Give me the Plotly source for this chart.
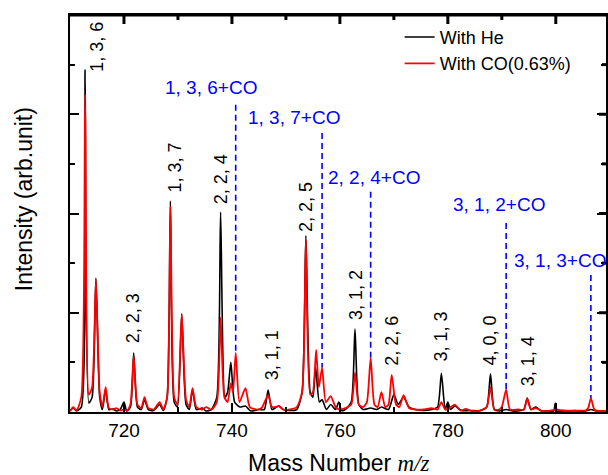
import plotly.graph_objects as go

# ---------------- data ----------------
mz_he = [710.0, 710.6, 711.2, 712.1, 712.8, 713.5, 714.1, 714.8, 715.5, 716.0,
         716.6, 717.2, 718.0, 718.6, 719.3, 720.0, 720.5, 721.2, 721.8, 722.5,
         723.2, 723.8, 724.5, 725.5, 726.6, 727.3, 728.0, 728.6, 729.3, 729.9,
         730.7, 731.5, 732.1, 732.7, 733.4, 734.5, 735.2, 736.2, 737.2, 737.9,
         738.7, 739.2, 739.8, 740.5, 741.5, 742.5, 743.5, 745.0, 746.0, 746.7,
         747.4, 748.0, 748.7, 749.5, 750.5, 752.0, 753.0, 753.7, 754.5, 755.0,
         755.5, 756.2, 756.7, 757.5, 758.3, 759.2, 759.8, 760.3, 761.0, 762.1,
         762.8, 763.5, 764.3, 765.7, 766.8, 767.7, 769.0, 770.0, 770.8, 771.8,
         772.8, 774.0, 775.5, 777.0, 778.1, 778.8, 779.5, 780.0, 780.5, 781.3,
         782.5, 784.0, 786.0, 787.2, 787.9, 788.6, 789.5, 790.8, 792.0, 793.5,
         794.1, 794.7, 795.4, 796.3, 797.2, 798.5, 799.6, 799.9, 800.2, 801.5,
         803.5, 805.5, 806.5, 807.5, 809.3]
int_he = [0.02, 0.08, 0.02, 0.10, 6.90, 0.18, 0.30, 2.70, 0.30, 0.05,
          0.45, 0.05, 0.06, 0.02, 0.05, 0.20, 0.02, 0.10, 1.19, 0.10,
          0.05, 0.25, 0.05, 0.03, 0.15, 0.03, 0.30, 4.25, 0.20, 0.10,
          1.98, 0.15, 0.05, 0.45, 0.05, 0.08, 0.02, 0.05, 0.30, 4.03,
          0.30, 0.40, 1.00, 0.20, 0.10, 0.12, 0.02, 0.05, 0.05, 0.44,
          0.05, 0.08, 0.12, 0.05, 0.03, 0.05, 0.40, 3.55, 0.40, 0.30,
          0.90, 0.20, 0.25, 0.05, 0.15, 0.05, 0.20, 0.03, 0.05, 0.20,
          1.67, 0.15, 0.05, 0.08, 0.05, 0.10, 0.05, 0.35, 0.15, 0.30,
          0.10, 0.05, 0.03, 0.05, 0.10, 0.78, 0.05, 0.20, 0.05, 0.12,
          0.03, 0.03, 0.03, 0.10, 0.77, 0.05, 0.02, 0.05, 0.02, 0.03,
          0.05, 0.28, 0.05, 0.10, 0.03, 0.02, 0.02, 0.18, 0.02, 0.02,
          0.02, 0.02, 0.05, 0.02, 0.02]

mz_co = [710.0, 710.6, 711.2, 712.1, 712.8, 713.5, 714.1, 714.8, 715.5, 716.0,
         716.6, 717.2, 718.0, 718.6, 719.3, 720.0, 720.6, 721.2, 721.8, 722.5,
         723.2, 723.8, 724.5, 725.5, 726.6, 727.3, 728.0, 728.6, 729.3, 729.9,
         730.7, 731.5, 732.1, 732.7, 733.4, 734.5, 735.2, 736.2, 737.2, 737.9,
         738.6, 739.2, 739.8, 740.2, 740.7, 741.4, 742.5, 743.3, 744.5, 745.5,
         746.7, 747.4, 748.0, 748.7, 749.5, 750.5, 752.0, 753.0, 753.7, 754.5,
         755.0, 755.6, 756.1, 756.7, 757.4, 758.3, 759.2, 760.0, 761.0, 762.1,
         762.8, 763.5, 764.3, 765.0, 765.7, 766.4, 767.0, 767.7, 768.4, 769.0,
         769.6, 770.4, 771.0, 771.8, 772.8, 774.0, 775.5, 777.0, 778.1, 778.8,
         779.5, 780.3, 781.3, 782.3, 783.3, 784.5, 786.0, 787.2, 787.9, 788.6,
         789.5, 790.0, 790.8, 791.5, 793.0, 794.1, 794.7, 795.4, 796.3, 797.2,
         798.5, 800.0, 801.5, 803.5, 805.5, 806.0, 806.5, 807.2, 809.3]
int_co = [0.02, 0.10, 0.03, 0.30, 6.40, 0.35, 0.50, 2.66, 0.40, 0.10,
          0.50, 0.08, 0.05, 0.08, 0.03, 0.05, 0.03, 0.15, 1.12, 0.15,
          0.08, 0.30, 0.08, 0.05, 0.20, 0.05, 0.30, 4.15, 0.30, 0.15,
          1.96, 0.25, 0.10, 0.48, 0.10, 0.05, 0.10, 0.05, 0.20, 1.90,
          0.30, 0.20, 0.58, 0.40, 1.19, 0.20, 0.48, 0.10, 0.05, 0.08,
          0.34, 0.10, 0.10, 0.12, 0.05, 0.05, 0.10, 0.40, 3.47, 0.35,
          0.40, 1.25, 0.50, 0.89, 0.20, 0.32, 0.10, 0.05, 0.08, 0.15,
          0.80, 0.15, 0.10, 0.20, 1.09, 0.15, 0.10, 0.40, 0.10, 0.15,
          0.75, 0.15, 0.10, 0.34, 0.08, 0.05, 0.05, 0.08, 0.05, 0.20,
          0.05, 0.08, 0.15, 0.03, 0.06, 0.02, 0.03, 0.10, 0.50, 0.05,
          0.05, 0.10, 0.45, 0.05, 0.05, 0.05, 0.27, 0.05, 0.08, 0.03,
          0.02, 0.05, 0.03, 0.03, 0.03, 0.08, 0.28, 0.04, 0.02]

# top-axis tick positions (major / minor) and right-axis tick positions
top_major_ticks = [720, 740, 760, 780, 800]
top_minor_ticks = [730, 750, 770, 790]
right_major_ticks = [2, 4, 6]
right_minor_ticks = [1, 3, 5, 7]

# peak labels (black, vertical)
peak_labels = ["1, 3, 6", "1, 3, 7", "2, 2, 4", "2, 2, 5", "2, 2, 3", "3, 1, 1",
               "3, 1, 2", "2, 2, 6", "3, 1, 3", "4, 0, 0", "3, 1, 4"]
peak_label_x = [715.0, 729.4, 737.9, 753.7, 721.6, 747.5, 763.0, 769.6, 778.8, 787.9, 794.9]
peak_label_y = [7.36, 4.92, 4.68, 4.13, 1.88, 1.15, 2.36, 1.43, 1.53, 1.45, 1.03]

# CO-adduct markers (blue dashed lines + labels)
co_labels = ["1, 3, 6+CO", "1, 3, 7+CO", "2, 2, 4+CO", "3, 1, 2+CO", "3, 1, 3+CO"]
co_line_x = [740.7, 756.7, 765.7, 790.8, 806.5]
co_line_top = [6.19, 5.62, 4.44, 3.81, 2.76]
co_line_bottom = [1.19, 0.89, 1.09, 0.45, 0.28]
co_label_x = [727.3, 742.6, 757.4, 780.6, 791.9]
co_label_y = [6.53, 5.93, 4.72, 4.19, 3.06]

x_range = [710, 809.3]
y_range = [0, 8]

FONT = "Liberation Sans, Arial, sans-serif"

fig = go.Figure()

# blue dashed marker lines
dx, dy = [], []
for x, t, b in zip(co_line_x, co_line_top, co_line_bottom):
    dx += [x, x, None]
    dy += [t, b, None]
fig.add_trace(go.Scatter(x=dx, y=dy, mode="lines", showlegend=False,
                         line=dict(color="#0000ff", width=1.6, dash="6px,4px"),
                         hoverinfo="skip"))

fig.add_trace(go.Scatter(x=mz_he, y=int_he, mode="lines", name="With He",
                         line=dict(color="black", width=1.6, shape="spline", smoothing=0.6)))
fig.add_trace(go.Scatter(x=mz_co, y=int_co, mode="lines", name="With CO(0.63%)",
                         line=dict(color="#ff0000", width=1.8, shape="spline", smoothing=0.6)))

# frame on top + top / right tick marks (built from the axis ranges and tick lists)
y_per_px = (y_range[1] - y_range[0]) / 397.0
x_per_px = (x_range[1] - x_range[0]) / 538.0
fx = [x_range[0], x_range[1], None]
fy = [y_range[1], y_range[1], None]
for v in top_major_ticks:
    fx += [v, v, None]
    fy += [y_range[1], y_range[1] - 9 * y_per_px, None]
for v in top_minor_ticks:
    fx += [v, v, None]
    fy += [y_range[1], y_range[1] - 5 * y_per_px, None]
for v in right_major_ticks:
    fx += [x_range[1], x_range[1] - 7 * x_per_px, None]
    fy += [v, v, None]
for v in right_minor_ticks:
    fx += [x_range[1], x_range[1] - 4 * x_per_px, None]
    fy += [v, v, None]
fig.add_trace(go.Scatter(x=fx, y=fy, mode="lines", showlegend=False, hoverinfo="skip",
                         line=dict(color="black", width=3)))

annotations = []
for t, x, y in zip(peak_labels, peak_label_x, peak_label_y):
    annotations.append(dict(x=x, y=y, xref="x", yref="y", text=t, showarrow=False,
                            textangle=-90, font=dict(family=FONT, size=18, color="black"),
                            xanchor="center", yanchor="middle"))
for t, x, y in zip(co_labels, co_label_x, co_label_y):
    annotations.append(dict(x=x, y=y, xref="x", yref="y", text=t, showarrow=False,
                            font=dict(family=FONT, size=19, color="#0000ff"),
                            xanchor="left", yanchor="middle"))
# axis titles
annotations.append(dict(x=-0.0855, y=0.5365, xref="paper", yref="paper",
                        text="Intensity (arb.unit)", showarrow=False, textangle=-90,
                        font=dict(family=FONT, size=23, color="black"),
                        xanchor="center", yanchor="middle"))
annotations.append(dict(x=0.502, y=-0.128, xref="paper", yref="paper",
                        text="Mass Number <span style=\"font-family:'Liberation Serif', 'Times New Roman', serif\"><i>m/z</i></span>",
                        showarrow=False, font=dict(family=FONT, size=23, color="black"),
                        xanchor="center", yanchor="middle"))

shapes = [dict(type="line", xref="paper", yref="paper", x0=0, x1=1, y0=1, y1=1,
               line=dict(color="black", width=2), layer="above")]

fig.update_layout(
    width=608, height=475,
    margin=dict(l=70, r=0, t=15, b=63),
    paper_bgcolor="white", plot_bgcolor="white",
    font=dict(family=FONT, color="black"),
    annotations=annotations,
    shapes=shapes,
    legend=dict(x=0.615, y=0.9906, xanchor="left", yanchor="top",
                bgcolor="rgba(0,0,0,0)", font=dict(family=FONT, size=18, color="black")),
    xaxis=dict(range=x_range, showgrid=False, zeroline=False,
               showline=True, linecolor="black", linewidth=2, mirror="ticks",
               ticks="inside", ticklen=9, tickwidth=2, tickcolor="black",
               dtick=20, tick0=700,
               minor=dict(ticks="inside", ticklen=5, tickwidth=2, dtick=10, tickcolor="black"),
               tickfont=dict(family=FONT, size=19, color="black")),
    yaxis=dict(range=y_range, showgrid=False, zeroline=False,
               showline=True, linecolor="black", linewidth=2, mirror="ticks",
               ticks="inside", ticklen=9, tickwidth=2, tickcolor="black",
               dtick=2, tick0=0, showticklabels=False,
               minor=dict(ticks="inside", ticklen=5, tickwidth=2, dtick=1, tickcolor="black")),
)

fig.write_html("out.html", config={"displayModeBar": False},
               post_script="document.body.style.margin='0';document.body.style.overflow='hidden';")
